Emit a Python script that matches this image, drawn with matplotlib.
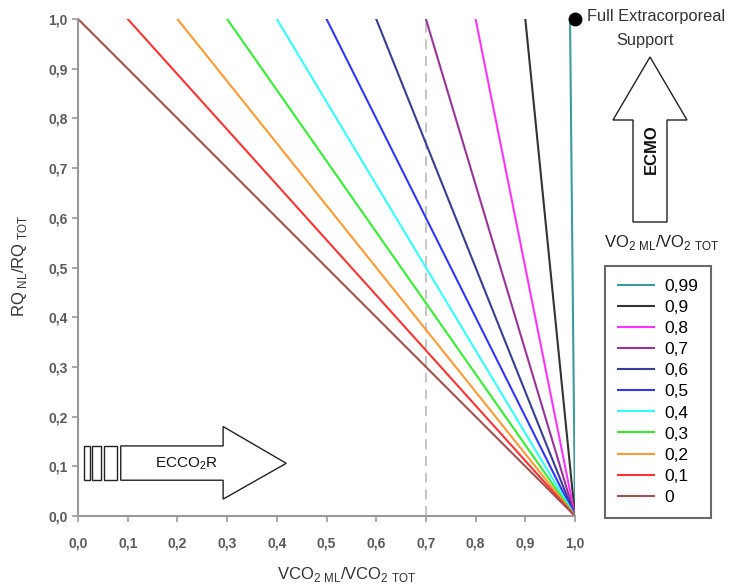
import matplotlib.pyplot as plt
from matplotlib.patches import Polygon, Rectangle

plt.rcParams['font.family'] = ['Liberation Sans', 'DejaVu Sans']
plt.rcParams['mathtext.fontset'] = 'custom'
plt.rcParams['mathtext.rm'] = 'Liberation Sans'

# VO2 ML / VO2 TOT for each line, with its colour
vo2_ratio = [0.99, 0.9, 0.8, 0.7, 0.6, 0.5, 0.4, 0.3, 0.2, 0.1, 0.0]
vo2_labels = ['0,99', '0,9', '0,8', '0,7', '0,6', '0,5', '0,4', '0,3', '0,2', '0,1', '0']
colors = ['#3a9c9c', '#333333', '#ff33ff', '#993399', '#3b3b99', '#3333ff',
          '#33ffff', '#33ee33', '#ff9933', '#ff3333', '#a5504f']
# each line runs from (vo2_ratio, 1) down to (1, 0)
rq_start = 1.0
vco2_end = 1.0

ticks = [0.0, 0.1, 0.2, 0.3, 0.4, 0.5, 0.6, 0.7, 0.8, 0.9, 1.0]
tick_labels = ['0,0', '0,1', '0,2', '0,3', '0,4', '0,5', '0,6', '0,7', '0,8', '0,9', '1,0']

W, H = 743, 588
fig = plt.figure(figsize=(W / 100, H / 100), dpi=100)
ax = fig.add_axes([78 / W, 1 - 516 / H, 497 / W, 497 / H])

ax.plot([0.7, 0.7], [0, 1], ls=(0, (6, 4)), color='#bbbbbb', lw=1.2, zorder=1)

for v, lab, c in zip(vo2_ratio, vo2_labels, colors):
    ax.plot([v, vco2_end], [rq_start, 0], color=c, lw=1.5, label=lab, zorder=2)

ax.plot([1.0], [1.0], 'o', color='black', ms=9, clip_on=False, zorder=5)

ax.set_xlim(0, 1)
ax.set_ylim(0, 1)
ax.set_xticks(ticks)
ax.set_xticklabels(tick_labels)
ax.set_yticks(ticks)
ax.set_yticklabels(tick_labels)
for s in ['top', 'right']:
    ax.spines[s].set_visible(False)
for s in ['left', 'bottom']:
    ax.spines[s].set_color('#999999')
    ax.spines[s].set_linewidth(1.5)
ax.tick_params(colors='#999999', labelcolor='#5a5a5a', length=4.5, width=1.2,
               labelsize=10)
ax.tick_params(axis='x', pad=10)
ax.tick_params(axis='y', pad=3)
for t in ax.get_xticklabels() + ax.get_yticklabels():
    t.set_fontweight('bold')

fig.text(347 / W, 1 - 575 / H, r'VCO$_{2\ \mathrm{ML}}$/VCO$_{2\ \mathrm{TOT}}$',
         ha='center', va='center', fontsize=12, color='#333333')
fig.text(20 / W, 1 - 266 / H, r'RQ$_{\ \mathrm{NL}}$/RQ$_{\ \mathrm{TOT}}$',
         ha='center', va='center', rotation=90, fontsize=12, color='#333333')

# ECCO2R arrow
for x0, x1 in [(0.012, 0.024), (0.028, 0.046), (0.052, 0.079)]:
    ax.add_patch(Rectangle((x0, 0.072), x1 - x0, 0.069, fill=False,
                           ec='#222222', lw=1, zorder=3))
arrow = [(0.086, 0.072), (0.292, 0.072), (0.292, 0.034), (0.419, 0.106),
         (0.292, 0.18), (0.292, 0.141), (0.086, 0.141)]
ax.add_patch(Polygon(arrow, closed=True, fc='white', ec='#222222', lw=1, zorder=3))
ax.text(0.218, 0.106, r'ECCO$_2$R', ha='center', va='center', fontsize=11,
        color='#111111', zorder=4)

# ECMO arrow, figure pixels
pts = [(633, 222), (633, 120), (613, 120), (650, 57), (687, 120), (667, 120), (667, 222)]
fig.patches.append(Polygon([(x / W, 1 - y / H) for x, y in pts], closed=True,
                           fc='white', ec='#222222', lw=1,
                           transform=fig.transFigure, figure=fig))
fig.text(651 / W, 1 - 149 / H, 'ECMO', rotation=90, ha='center', va='center',
         fontsize=12, fontweight='bold', color='#111111')
fig.text(656 / W, 1 - 17 / H, 'Full Extracorporeal', ha='center',
         va='center', fontsize=11.8, color='#333333')
fig.text(645 / W, 1 - 40 / H, 'Support', ha='center',
         va='center', fontsize=11.8, color='#333333')
fig.text(662 / W, 1 - 242 / H, r'VO$_{2\ \mathrm{ML}}$/VO$_{2\ \mathrm{TOT}}$',
         ha='center', va='center', fontsize=12, color='#222222')

leg = fig.legend(loc='upper left', bbox_to_anchor=(605 / W, 1 - 266 / H),
                 frameon=True, fancybox=False, fontsize=12.5, handlelength=2.1,
                 labelspacing=0.34, borderpad=0.75, handletextpad=0.55,
                 borderaxespad=0)
leg.get_frame().set_edgecolor('#444444')
leg.get_frame().set_linewidth(1.5)

fig.savefig('out.png', dpi=100)
